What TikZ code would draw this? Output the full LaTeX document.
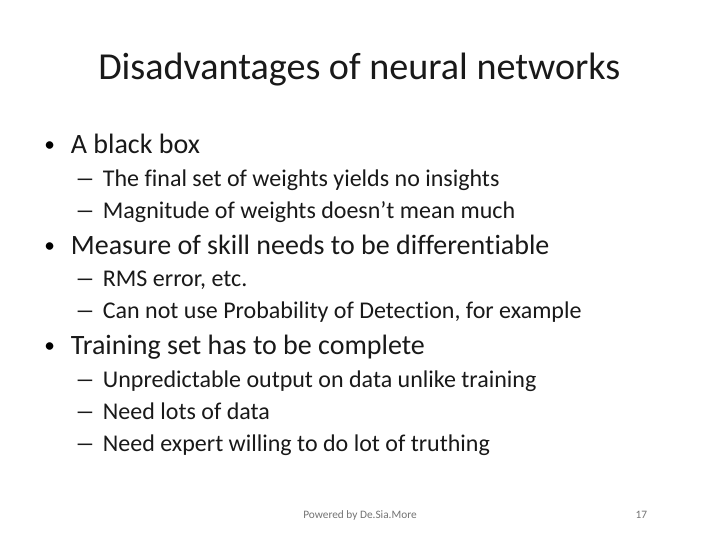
\documentclass[tikz,border=0pt]{standalone}
\usepackage{fontspec}
\setmainfont{Carlito}[Ligatures=NoCommon]
\tikzset{
  titletext/.style={anchor=base,inner sep=0pt,font=\fontsize{28.6}{32}\selectfont,text=black!90},
  headtext/.style={anchor=base west,inner sep=0pt,font=\fontsize{21}{25}\selectfont,text=black!90},
  subtext/.style={anchor=base west,inner sep=0pt,font=\fontsize{18}{22}\selectfont,text=black!90},
  bullettext/.style={anchor=base west,inner sep=0pt,yshift=1.5pt,font=\fontsize{16}{20}\selectfont,text=black},
  dashtext/.style={anchor=base west,inner sep=0pt,font=\fontsize{18}{22}\selectfont,text=black!90},
  foottext/.style={anchor=base,inner sep=0pt,font=\fontsize{8.5}{10}\selectfont,text=black!55}
}
\newcommand{\longdash}{\scalebox{1.7}[1]{–}}
\begin{document}
\begin{tikzpicture}[x=1pt,y=-1pt]
    \useasboundingbox (0,0) rectangle (540,405);
    \fill[white] (0,0) rectangle (540,405);
    \node[titletext] (title) at (269.5,59.5) {Disadvantages of neural networks};
    % first block
    \node[bullettext] (bulletA) at (33,115) {•};
    \node[headtext] (headA) at (53,115) {A black box};
    \node[dashtext] (dashAa) at (56,140) {\longdash};
    \node[subtext] (subAa) at (77,140) {The final set of weights yields no insights};
    \node[dashtext] (dashAb) at (56,164) {\longdash};
    \node[subtext] (subAb) at (77,164) {Magnitude of weights doesn’t mean much};
    % second block
    \node[bullettext] (bulletB) at (33,191) {•};
    \node[headtext] (headB) at (53,191) {Measure of skill needs to be differentiable};
    \node[dashtext] (dashBa) at (56,215) {\longdash};
    \node[subtext] (subBa) at (77,215) {RMS error, etc.};
    \node[dashtext] (dashBb) at (56,239) {\longdash};
    \node[subtext] (subBb) at (77,239) {Can not use Probability of Detection, for example};
    % third block
    \node[bullettext] (bulletC) at (33,266) {•};
    \node[headtext] (headC) at (53,266) {Training set has to be complete};
    \node[dashtext] (dashCa) at (56,290.3) {\longdash};
    \node[subtext] (subCa) at (77,290.3) {Unpredictable output on data unlike training};
    \node[dashtext] (dashCb) at (56,314.3) {\longdash};
    \node[subtext] (subCb) at (77,314.3) {Need lots of data};
    \node[dashtext] (dashCc) at (56,338.3) {\longdash};
    \node[subtext] (subCc) at (77,338.3) {Need expert willing to do lot of truthing};
    % footer
    \node[foottext] (foot) at (270,389) {Powered by De.Sia.More};
    \node[foottext] (page) at (481,389) {17};
\end{tikzpicture}
\end{document}
